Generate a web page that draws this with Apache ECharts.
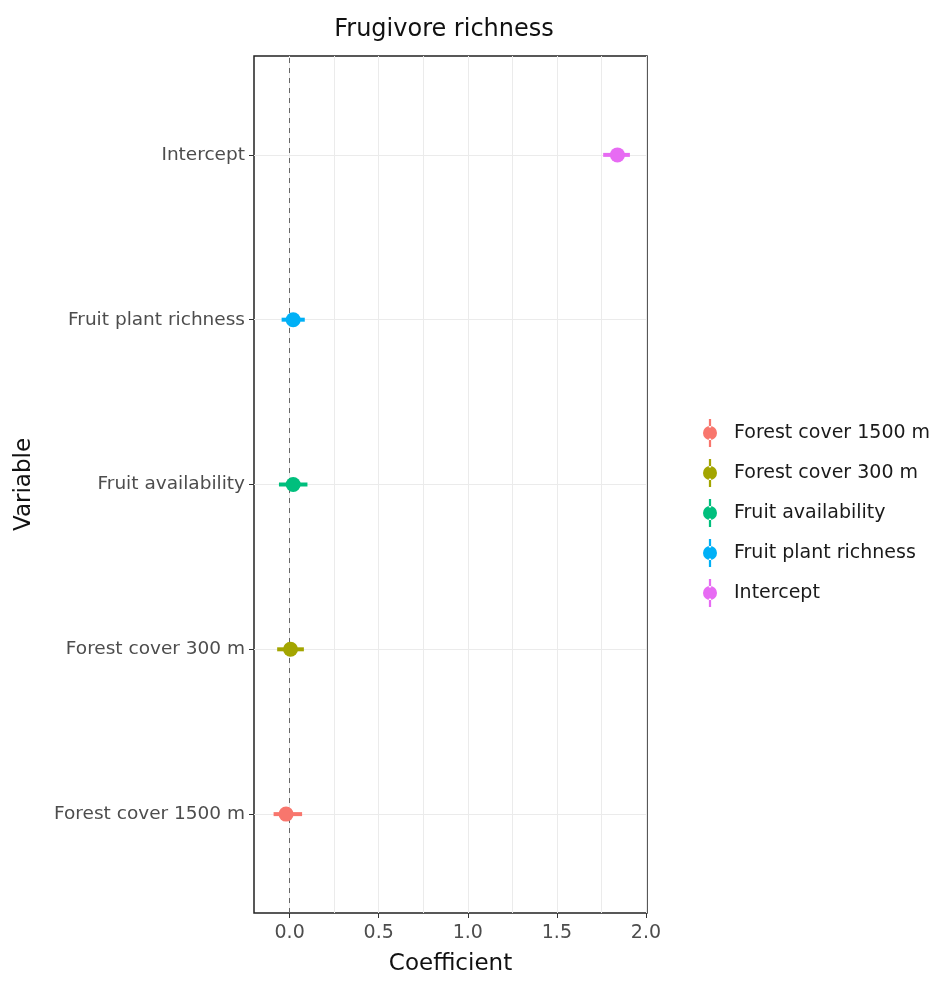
<!DOCTYPE html>
<html>
<head>
<meta charset="utf-8">
<script src="https://cdn.jsdelivr.net/npm/echarts@6/dist/echarts.min.js"></script>
<style>
  html, body { margin: 0; padding: 0; background: #fff; }
  #chart { width: 945px; height: 981px; }
</style>
</head>
<body>
<div id="chart"></div>
<script>
// coefficient estimates with interval
const variables = ['Forest cover 1500 m', 'Forest cover 300 m', 'Fruit availability', 'Fruit plant richness', 'Intercept'];
const estimates = [-0.02, 0.005, 0.02, 0.02, 1.84];
const lowers = [-0.09, -0.07, -0.06, -0.045, 1.76];
const uppers = [0.07, 0.08, 0.10, 0.085, 1.91];
const colors = ['#F8766D', '#A3A500', '#00BF7D', '#00B0F6', '#E76BF3'];
const xTicks = [0, 0.5, 1, 1.5, 2];
const xGrid = [0, 0.25, 0.5, 0.75, 1, 1.25, 1.5, 1.75, 2];
const yTicks = [0, 1, 2, 3, 4];

const FONT = 'DejaVu Sans, sans-serif';
const keyIcon = 'path://M4.2,0h1.6v6h-1.6z M4.2,14h1.6v6h-1.6z M0,10a5,5 0 1,0 10,0a5,5 0 1,0 -10,0z';

const renderPointRange = (params, api) => {
  const y = api.value(1);
  const a = api.coord([api.value(2), y]);
  const b = api.coord([api.value(3), y]);
  const c = api.coord([api.value(0), y]);
  const color = api.visual('color');
  return {
    type: 'group',
    children: [
      { type: 'line', shape: { x1: a[0], y1: a[1], x2: b[0], y2: b[1] }, style: { stroke: color, lineWidth: 4 } },
      { type: 'circle', shape: { cx: c[0], cy: c[1], r: 7.5 }, style: { fill: color } }
    ]
  };
};

const series = variables.map((name, i) => {
  const s = {
    name: name,
    type: 'custom',
    color: colors[i],
    renderItem: renderPointRange,
    encode: { x: [0, 2, 3], y: 1 },
    data: [[estimates[i], i, lowers[i], uppers[i]]],
    z: 5
  };
  if (i === 0) {
    s.markLine = {
      silent: true,
      symbol: 'none',
      label: { show: false },
      lineStyle: { color: '#666', type: [5, 5], width: 1 },
      data: [{ xAxis: 0 }]
    };
  }
  return s;
});

const chart = echarts.init(document.getElementById('chart'));
chart.setOption({
  animation: false,
  backgroundColor: '#fff',
  textStyle: { fontFamily: FONT },
  title: {
    text: 'Frugivore richness',
    left: 439,
    textAlign: 'center',
    top: 13,
    textStyle: { fontSize: 24, fontWeight: 'normal', color: '#111', fontFamily: FONT }
  },
  grid: {
    left: 254, right: 298, top: 56, bottom: 64,
    show: true, borderColor: '#222', borderWidth: 1.5, backgroundColor: 'transparent'
  },
  legend: {
    orient: 'vertical',
    left: 698,
    top: 414,
    itemWidth: 14,
    itemHeight: 28,
    itemGap: 12,
    icon: keyIcon,
    textStyle: { fontSize: 19, color: '#1a1a1a', padding: [0, 0, 0, 12], fontFamily: FONT },
    data: variables
  },
  xAxis: [
    {
      type: 'value',
      min: -0.2,
      max: 2.006,
      name: 'Coefficient',
      nameLocation: 'middle',
      nameGap: 40,
      nameTextStyle: { fontSize: 23, color: '#111', fontFamily: FONT },
      axisLine: { show: false, onZero: false },
      axisTick: { show: true, customValues: xTicks, length: 5, lineStyle: { color: '#333' } },
      axisLabel: { customValues: xTicks, fontSize: 19, color: '#4d4d4d', margin: 11, formatter: v => v.toFixed(1), fontFamily: FONT },
      splitLine: { show: false }
    },
    {
      type: 'value',
      min: -0.2,
      max: 2.006,
      position: 'bottom',
      axisLine: { show: false, onZero: false },
      axisTick: { show: false, customValues: xGrid },
      axisLabel: { show: false, customValues: xGrid },
      splitLine: { show: true, lineStyle: { color: '#ebebeb', width: 1 } }
    }
  ],
  yAxis: {
    type: 'value',
    min: -0.6,
    max: 4.6,
    name: 'Variable',
    nameLocation: 'middle',
    nameGap: 218,
    nameRotate: 90,
    nameTextStyle: { fontSize: 23, color: '#111', fontFamily: FONT },
    axisLine: { show: false, onZero: false },
    axisTick: { show: true, customValues: yTicks, length: 5, lineStyle: { color: '#333' } },
    axisLabel: { customValues: yTicks, fontSize: 18.5, color: '#4d4d4d', margin: 9, formatter: v => variables[Math.round(v)], fontFamily: FONT },
    splitLine: { show: true, lineStyle: { color: '#ebebeb', width: 1 } }
  },
  series: series
});
</script>
</body>
</html>
